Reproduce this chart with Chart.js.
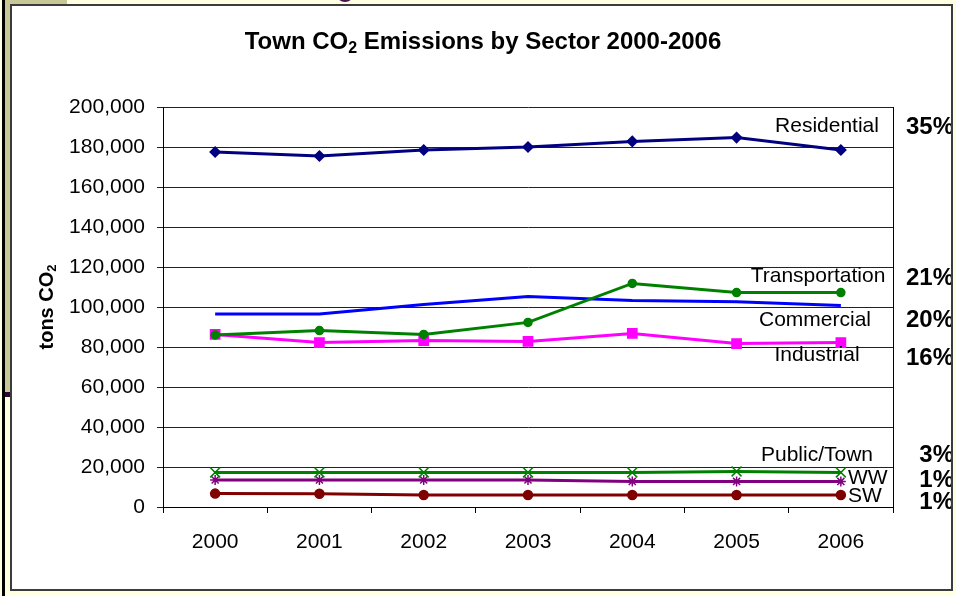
<!DOCTYPE html>
<html>
<head>
<meta charset="utf-8">
<script src="https://cdn.jsdelivr.net/npm/chart.js@4.4.1/dist/chart.umd.min.js"></script>
<style>
    body {
        margin: 0;
        width: 956px;
        height: 596px;
        background: #ffffe1;
        position: relative;
        overflow: hidden;
        font-family: "Liberation Sans", Arial, sans-serif;
    }
    .barraPreta { position: absolute; left: 2px; top: 0; width: 3px; height: 596px; background: #000; }
    .faixaLateral { position: absolute; left: 5px; top: 0; width: 5px; height: 392px; background: #c8c896; }
    .faixaRoxa { position: absolute; left: 5px; top: 392px; width: 5px; height: 5px; background: #330033; }
    .faixaTopo { position: absolute; left: 10px; top: 0; width: 57px; height: 4px; background: #c8c896; }
    .letra { position: absolute; left: 336px; top: -8px; width: 18px; height: 7px; border-bottom: 3px solid #4b0f4b; border-radius: 0 0 10px 10px; }
    .moldura {
        position: absolute;
        left: 10px;
        top: 4px;
        width: 939px;
        height: 583px;
        border: 2px solid #3c3c3c;
        background: #fff;
        overflow: hidden;
    }
    canvas { display: block; }
</style>
</head>
<body>
<div class="barraPreta"></div>
<div class="faixaLateral"></div>
<div class="faixaRoxa"></div>
<div class="faixaTopo"></div>
<div class="letra"></div>
<div class="moldura"><canvas id="graficoEmissoes" width="939" height="583"></canvas></div>

<script>
// Dados de emissões (toneladas de CO2) por setor
var anos = ['2000', '2001', '2002', '2003', '2004', '2005', '2006']
var residencial = [177500, 175500, 178500, 180000, 182800, 184700, 178500]
var transporte = [86000, 88200, 86300, 92300, 111800, 107200, 107200]
var comercial = [96500, 96500, 101300, 105200, 103300, 102600, 100800]
var industrial = [86300, 82200, 83200, 82800, 86800, 81700, 82200]
var publico = [17300, 17300, 17300, 17300, 17300, 17800, 17300]
var aguas = [13500, 13500, 13500, 13500, 12800, 12800, 12800]
var residuos = [6700, 6600, 6000, 6000, 6000, 6000, 6000]

var setores = ['Residential', 'Transportation', 'Commercial', 'Industrial', 'Public/Town', 'WW', 'SW']
var participacao = ['35%', '21%', '20%', '16%', '3%', '1%', '1%']

var fonte = '"Liberation Sans", Arial, sans-serif'

// posição dos nomes e porcentagens no canvas
var nomes = [
    { x: 815, y: 120, align: 'center' },
    { x: 806, y: 270, align: 'center' },
    { x: 803, y: 314, align: 'center' },
    { x: 805, y: 349, align: 'center' },
    { x: 805, y: 449, align: 'center' },
    { x: 836, y: 472, align: 'left' },
    { x: 836, y: 490, align: 'left' }
]
var yPorcentagem = [121, 272, 314, 352, 449, 474, 496]

function serie(label, data, cor, estilo, raio) {
    return {
        label: label,
        data: data,
        borderColor: cor,
        backgroundColor: cor,
        borderWidth: 3,
        pointStyle: estilo,
        pointRadius: raio,
        pointBorderWidth: 1.5,
        pointBackgroundColor: cor,
        pointBorderColor: cor,
        tension: 0
    }
}

// texto com o "2" subscrito
function textoSub(c, partes, x, y, tam, tamSub, desce) {
    var total = 0
    partes.forEach(function (p) {
        c.font = 'bold ' + (p.sub ? tamSub : tam) + 'px ' + fonte
        p.w = c.measureText(p.t).width
        total += p.w
    })
    var xi = x - total / 2
    c.textAlign = 'left'
    c.textBaseline = 'alphabetic'
    partes.forEach(function (p) {
        c.font = 'bold ' + (p.sub ? tamSub : tam) + 'px ' + fonte
        c.fillText(p.t, xi, y + (p.sub ? desce : 0))
        xi += p.w
    })
}

var textos = {
    id: 'textos',
    afterDraw: function (chart) {
        var c = chart.ctx
        var a = chart.chartArea
        c.save()
        c.strokeStyle = '#000'
        c.lineWidth = 1
        c.beginPath()
        c.moveTo(Math.round(a.right) + 0.5, a.top)
        c.lineTo(Math.round(a.right) + 0.5, a.bottom)
        c.stroke()

        c.fillStyle = '#000'
        textoSub(c, [{ t: 'Town CO' }, { t: '2', sub: true }, { t: ' Emissions by Sector 2000-2006' }], 471, 43, 24, 16, 4)

        c.save()
        c.translate(41, 301)
        c.rotate(-Math.PI / 2)
        textoSub(c, [{ t: 'tons CO' }, { t: '2', sub: true }], 0, 0, 20, 13, 3)
        c.restore()

        c.font = '21px ' + fonte
        c.textBaseline = 'middle'
        setores.forEach(function (s, i) {
            c.textAlign = nomes[i].align
            c.fillText(s, nomes[i].x, nomes[i].y)
        })

        c.font = 'bold 24px ' + fonte
        c.textAlign = 'right'
        participacao.forEach(function (p, i) {
            c.fillText(p, 942, yPorcentagem[i])
        })
        c.restore()
    }
}

var ctx = document.getElementById('graficoEmissoes')
createEmissoes(ctx)

function createEmissoes(ctx) {

    graficoEmissoes = new Chart(ctx, {
        type: 'line',
        data: {
            labels: anos,
            datasets: [
                serie('Residential', residencial, '#000080', 'rectRot', 5),
                serie('Transportation', transporte, '#008000', 'circle', 4),
                serie('Commercial', comercial, '#0000ff', 'circle', 0),
                serie('Industrial', industrial, '#ff00ff', 'rect', 6.5),
                serie('Public/Town', publico, '#008000', 'crossRot', 7),
                serie('WW', aguas, '#800080', 'star', 5),
                serie('SW', residuos, '#800000', 'circle', 4.5)
            ]
        },
        options: {
            responsive: false,
            animation: false,
            layout: {
                padding: { top: 101, right: 58, left: 0, bottom: 0 }
            },
            plugins: {
                legend: { display: false },
                tooltip: { enabled: false }
            },
            scales: {
                x: {
                    offset: true,
                    grid: {
                        offset: true,
                        drawOnChartArea: false,
                        drawTicks: true,
                        tickLength: 6,
                        color: '#000'
                    },
                    border: { color: '#000' },
                    ticks: {
                        color: '#000',
                        padding: 17,
                        font: { family: fonte, size: 21 }
                    },
                    afterFit: function (s) { s.height = 82 }
                },
                y: {
                    min: 0,
                    max: 200000,
                    grid: {
                        color: '#222',
                        tickLength: 6
                    },
                    border: { color: '#000' },
                    ticks: {
                        stepSize: 20000,
                        color: '#000',
                        padding: 12,
                        font: { family: fonte, size: 21 },
                        callback: function (v) { return v.toLocaleString('en-US') }
                    },
                    afterFit: function (s) { s.width = 151 }
                }
            }
        },
        plugins: [textos]
    });
}
</script>
</body>
</html>
